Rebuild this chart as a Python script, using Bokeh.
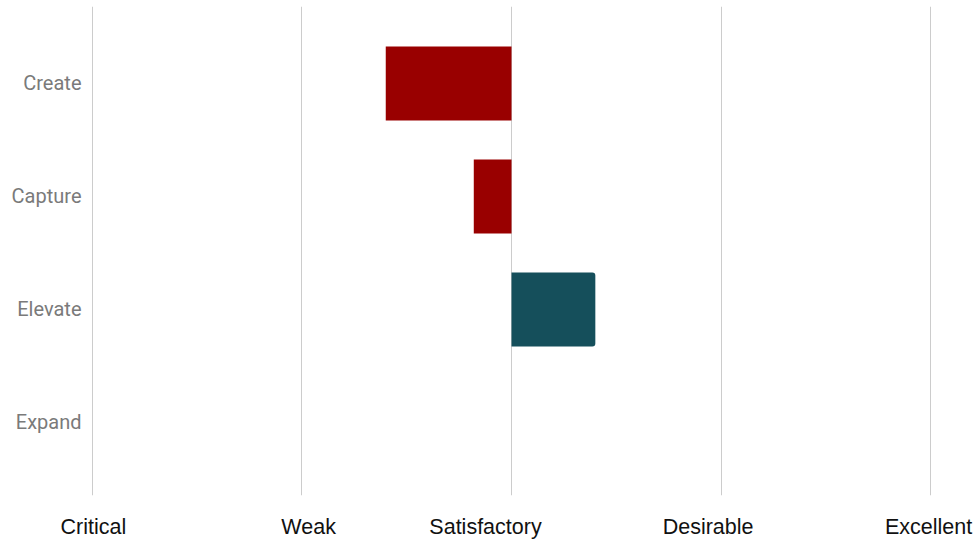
from bokeh.plotting import figure
from bokeh.models import ColumnDataSource, Range1d, FixedTicker, CDSView, BooleanFilter
from bokeh.embed import file_html
from bokeh.resources import INLINE

# ---- data ----
categories = ["Create", "Capture", "Elevate", "Expand"]
values = [-0.6, -0.18, 0.4, 0.0]
tick_values = [-2, -1, 0, 1, 2]
tick_labels = ["Critical", "Weak", "Satisfactory", "Desirable", "Excellent"]

NEG_COLOR = "#990000"
POS_COLOR = "#154f5b"

# the reference places its scale labels slightly off the grid lines
label_shift = [0.005, 0.032, -0.124, -0.062, -0.010]

n = len(categories)
ypos = [n - 1 - i for i in range(n)]
colors = [NEG_COLOR if v < 0 else POS_COLOR for v in values]
source = ColumnDataSource(dict(
    y=ypos,
    left=[min(v, 0) for v in values],
    right=[max(v, 0) for v in values],
    color=colors,
    name=categories,
))

p = figure(
    width=975, height=542,
    x_range=Range1d(-2.004, 2.004),
    y_range=Range1d(-0.646, 3.681),
    output_backend="svg", toolbar_location=None,
    min_border_left=91, min_border_right=44, min_border_top=6, min_border_bottom=47,
)
p.outline_line_color = None
p.background_fill_color = "white"
p.border_fill_color = "white"

neg_view = CDSView(filter=BooleanFilter([v < 0 for v in values]))
pos_view = CDSView(filter=BooleanFilter([v > 0 for v in values]))
p.hbar(y="y", left="left", right="right", height=0.655, fill_color="color",
       line_color=None, source=source, view=neg_view)
p.hbar(y="y", left="left", right="right", height=0.655, fill_color="color",
       line_color=None, source=source, view=pos_view, border_radius=(0, 3, 3, 0))

# x axis (labels at shifted positions, grid at the scale values)
label_pos = [t + s for t, s in zip(tick_values, label_shift)]
p.xaxis.ticker = FixedTicker(ticks=label_pos)
p.xaxis.major_label_overrides = {t: l for t, l in zip(label_pos, tick_labels)}
p.xaxis.axis_line_color = None
p.xaxis.major_tick_line_color = None
p.xaxis.minor_tick_line_color = None
p.xaxis.major_label_standoff = 13
p.xaxis.major_label_text_font = "Liberation Sans"
p.xaxis.major_label_text_font_size = "21.5px"
p.xaxis.major_label_text_color = "#111111"

# y axis
p.yaxis.ticker = FixedTicker(ticks=ypos)
p.yaxis.major_label_overrides = {y: c for y, c in zip(ypos, categories)}
p.yaxis.axis_line_color = None
p.yaxis.major_tick_line_color = None
p.yaxis.minor_tick_line_color = None
p.yaxis.major_label_standoff = 4
p.yaxis.major_label_text_font = "Roboto"
p.yaxis.major_label_text_font_size = "20px"
p.yaxis.major_label_text_color = "#7a7a7a"

p.xgrid.ticker = FixedTicker(ticks=tick_values)
p.xgrid.grid_line_color = "#cccccc"
p.xgrid.grid_line_width = 1
p.ygrid.grid_line_color = None

open("out.html", "w").write(file_html(p, INLINE))
